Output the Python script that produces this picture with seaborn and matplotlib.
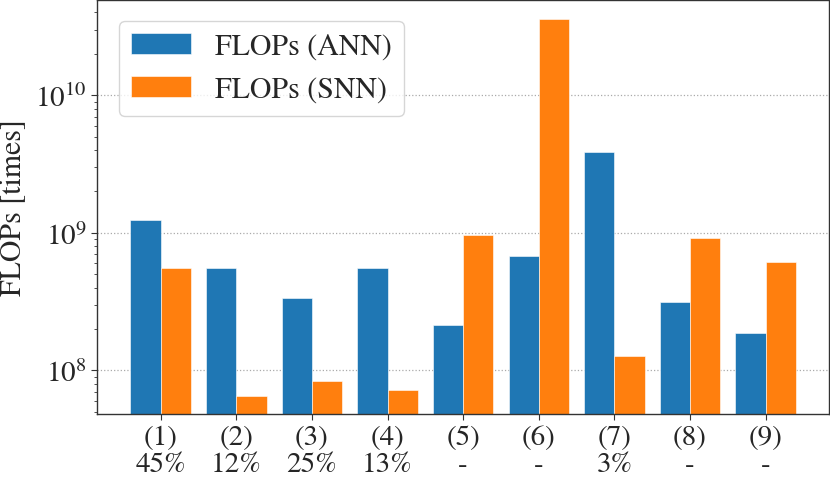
import numpy as np
import pandas as pd
import matplotlib
matplotlib.use("Agg")
import matplotlib.pyplot as plt
import seaborn as sns

# data
labels = ['(1)\n45%', '(2)\n12%', '(3)\n25%', '(4)\n13%', '(5)\n-',
          '(6)\n-', '(7)\n3%', '(8)\n-', '(9)\n-']
flops_ann = [1.24e9, 5.55e8, 3.36e8, 5.55e8, 2.15e8, 6.8e8, 3.86e9, 3.12e8, 1.87e8]
flops_snn = [5.55e8, 6.5e7, 8.3e7, 7.24e7, 9.56e8, 3.61e10, 1.28e8, 9.2e8, 6.12e8]
series = ['FLOPs (ANN)', 'FLOPs (SNN)']

df = pd.DataFrame({
    'model': labels * 2,
    'flops': flops_ann + flops_snn,
    'kind': [series[0]] * len(labels) + [series[1]] * len(labels),
})

sns.set_style('white')
plt.rcParams['font.family'] = 'serif'
plt.rcParams['font.serif'] = ['STIXGeneral', 'TeX Gyre Termes']
plt.rcParams['mathtext.fontset'] = 'stix'
plt.rcParams['font.size'] = 21

fig = plt.figure(figsize=(8.3, 4.85), dpi=100)
ax = fig.add_axes([0.117, 0.144, 0.882, 0.854])

sns.barplot(data=df, x='model', y='flops', hue='kind', ax=ax,
            palette=['#1f77b4', '#ff7f0e'], width=0.8, saturation=1,
            edgecolor='#ffffff', linewidth=0.4)
ax.set_yscale('log')
ax.set_ylim(4.8e7, 4.93e10)
ax.set_xlim(-0.84, 8.84)

ax.set_xlabel('')
ax.set_ylabel('FLOPs [times]', fontsize=21.5, labelpad=6)
ax.yaxis.grid(True, which='major', linestyle=':', color='#aaaaaa', linewidth=0.9)
ax.set_axisbelow(True)

for s in ax.spines.values():
    s.set_color('#333333')
    s.set_linewidth(1.0)

ax.tick_params(axis='x', which='both', bottom=True, length=4, color='#333333',
               labelsize=21, pad=4)
ax.tick_params(axis='y', which='major', left=True, length=4, color='#333333', labelsize=21)
ax.tick_params(axis='y', which='minor', left=True, length=2.5, color='#333333')
for t in ax.get_xticklabels():
    t.set_linespacing(1.08)

leg = ax.legend(loc='upper left', bbox_to_anchor=(0.01, 0.985), fontsize=21.5,
                frameon=True, fancybox=True, framealpha=0.8, edgecolor='#cccccc')
leg.set_title(None)

fig.savefig('out.png', dpi=100)
